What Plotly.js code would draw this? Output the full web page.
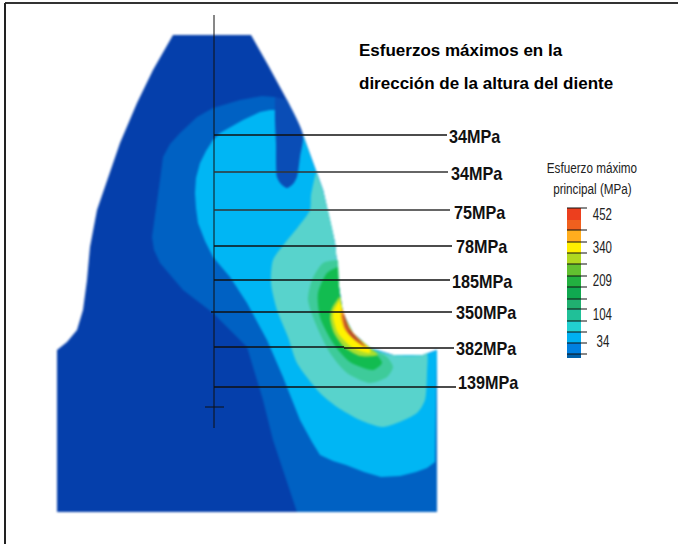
<!DOCTYPE html>
<html><head><meta charset="utf-8">
<script src="https://cdn.plot.ly/plotly-3.0.1.min.js"></script>
<style>
html,body{margin:0;padding:0;background:#fff;overflow:hidden}
#chart{width:678px;height:544px}
.scatterlayer{filter:blur(0.8px)}
.barlayer{filter:blur(0.4px)}
</style></head><body><div id="chart"></div>
<script>
// Shared curve of the loaded tooth flank (fillet end first)
const flankX=[437,423,393,370,353,343,339,335,323,303];
const flankY=[350,355,355,348,333,313,287,243,190,135];

// Contour regions, painted from lowest stress band to highest
const toothX=[173,251,268,287,...flankX.slice().reverse(),437,57,57,67,77,83,87,90,97,107,120,137,153];
const toothY=[35,35,65,100,...flankY.slice().reverse(),512,512,350,342,330,310,280,247,210,180,143,103,70];
const bandA_X=[275,262,240,213,197,180,170,163,160,155,152,154,160,183,213,247,263,273,297,437,...flankX.slice(0,-1),303];
const bandA_Y=[97,96,100,108,117,133,144,157,180,213,237,250,263,290,313,347,400,440,512,512,...flankY.slice(0,-1),135];
const bandB_X=[270,260,243,220,213,206,200,196,195,196,198,205,213,230,247,267,283,300,312,320,333,346,364,381,400,416,427,435,...flankX,290];
const bandB_Y=[110,112,120,133,140,151,163,178,193,208,223,241,257,277,303,340,377,420,442,455,461,465,472,477,476,472,468,462,...flankY,110];
const lobeX=[275,275,276,277,281,287,293,297,300,303,287];
const lobeY=[97,120,143,177,184,188,184,177,157,135,100];
const bandC_X=[316,311,310,298,285,273,271,277,288,297,320,337,360,383,417,425,427,427,423,393,370,353,343,339,335,323];
const bandC_Y=[172,195,210,227,243,260,283,310,337,363,393,407,420,427,413,400,373,353,355,355,348,333,313,287,243,190];
const bandD_X=[338,323,312,308,317,330,347,370,387,393,387,370,353,343,339];
const bandD_Y=[260,263,280,300,327,353,373,383,377,367,357,348,333,313,287];
const bandE_X=[338,327,318,320,333,350,373,382,377,370,353,343,339];
const bandE_Y=[267,273,293,317,343,362,370,363,355,348,333,313,287];
const bandF_X=[340,332,330,334,344,360,378,370,353,343];
const bandF_Y=[296,308,318,333,347,356,355,348,333,313];
const bandG_X=[340,334,333,338,353,370,370,353,343];
const bandG_Y=[300,310,317,333,348,353,349,333,313];
const bandH_X=[342,341,345,357,367,359,349,344];
const bandH_Y=[308,317,330,342,348,339,328,314];
const bandI_X=[343,345,350,358,366,358,349,344];
const bandI_Y=[315,326,335,342,347,339,328,314];
const regionColors=['#053FAB','#0061C3','#00B6F4','#0A4DB6','#58D3CC','#3ECB9A','#12BC50','#A9DE2E','#FFF200','#F0901E','#B8482C'];

// Leader lines and labels
const leaderY=[135,172,210,246,280,312,348,387];
const leaderEnd=[447,448,450,452,450,452,454,456];
const labelText=['34MPa','34MPa','75MPa','78MPa','185MPa','350MPa','382MPa','139MPa'];
const labelX=[448,450,453,455,451,455,455,457];
const labelY=[137,174,213,247,282,313,349,383];

// Colour scale
const scaleEdges=[208,220,230,242,253,264,276,287,299,309,321,332,343,354,358];
const scaleColors=['#EC3F1E','#F0601E','#FFAD1E','#FFEE00','#B0D820','#62C030','#22B040','#10A850','#20B070','#20C098','#22D0D0','#00B0F0','#0080E0','#0060A8'];
const scaleTicks=[208,230,242,253,264,276,287,299,309,321,332,343,354];
const scaleLabels=['452','340','209','104','34'];
const scaleLabelY=[214,247,280,314,341];
const scaleLabelX=[602,602,602,602,603];

const poly=(x,y,c,smooth)=>({type:'scatter',mode:'lines',x:x,y:y,fill:'toself',fillcolor:c,
  line:{width:0,color:c,shape:smooth?'spline':'linear',smoothing:0.7},hoverinfo:'skip',showlegend:false});
const regions=[[toothX,toothY,0],[bandA_X,bandA_Y,0],[bandB_X,bandB_Y,0],[lobeX,lobeY,1],[bandC_X,bandC_Y,1],[bandD_X,bandD_Y,1],[bandE_X,bandE_Y,1],[bandF_X,bandF_Y,1],[bandG_X,bandG_Y,1],[bandH_X,bandH_Y,1],[bandI_X,bandI_Y,1]];
const traces=regions.map((r,i)=>poly(r[0],r[1],regionColors[i],r[2]));

traces.push({type:'bar',x:scaleColors.map(()=>574),base:scaleEdges.slice(0,-1),
  y:scaleColors.map((c,i)=>scaleEdges[i+1]-scaleEdges[i]),width:14,
  marker:{color:scaleColors,line:{width:0}},hoverinfo:'skip',showlegend:false});

const line=(x0,y0,x1,y1,w,c)=>({type:'line',xref:'x',yref:'y',x0,y0,x1,y1,line:{width:w,color:c||'#111'}});
const shapes=[
  line(214,15,214,428,1,'#111'),
  line(205,407,224,407,1,'#111'),
  line(5,3,678,3,2,'#333'),
  line(5,3,5,544,2,'#222')
];
leaderY.forEach((y,i)=>{
  if(i===6){shapes.push(line(214,347,344,347,1.3));shapes.push(line(344,y,leaderEnd[i],y,1.3));}
  else shapes.push(line(i===5?211:214,y,leaderEnd[i],y,1.3,i===1||i===2?'#333':'#111'));
});
scaleTicks.forEach(y=>shapes.push(line(567,y,587,y,1,'#111')));

const ann=(text,x,y,size,fam,col,anchor)=>({text,x,y,xref:'x',yref:'y',xanchor:anchor||'left',yanchor:'middle',showarrow:false,borderpad:0,font:{size,family:fam,color:col||'#000'}});
const annotations=[];
const sans='"Liberation Sans",Arial,sans-serif';
annotations.push(ann('<b>Esfuerzos máximos en la</b>',358,50,17,sans));
annotations.push(ann('<b>dirección de la altura del diente</b>',358,83,17,sans));
labelText.forEach((t,i)=>annotations.push(ann('<b>'+t+'</b>',labelX[i],labelY[i],18,sans,'#111')));
annotations.push(ann('Esfuerzo máximo',592,167,15,sans,'#222','center'));
annotations.push(ann('principal (MPa)',592,188,15,sans,'#222','center'));
scaleLabels.forEach((t,i)=>annotations.push(ann(t,scaleLabelX[i],scaleLabelY[i],16,sans,'#222','center')));

const layout={width:678,height:544,margin:{l:0,r:0,t:0,b:0},paper_bgcolor:'#fff',plot_bgcolor:'#fff',
  xaxis:{range:[0,678],visible:false,fixedrange:true},
  yaxis:{range:[544,0],visible:false,fixedrange:true},
  showlegend:false,shapes,annotations,barmode:'overlay'};
Plotly.newPlot('chart',traces,layout,{displayModeBar:false,staticPlot:true}).then(()=>{
  // The reference's labels are condensed: narrow them horizontally, keeping their height
  document.querySelectorAll('.annotation').forEach(g=>{
    const i=+g.getAttribute('data-index');
    const t=g.querySelector('text');
    if(!t) return;
    t.style.transformBox='fill-box';
    if(i>=2&&i<10){t.style.transformOrigin='left center';t.style.transform='scaleX(0.9)';}
    if(i>=10&&i<12){t.style.transformOrigin='center';t.style.transform='scaleX(0.78)';}
    if(i>=12){t.style.transformOrigin='center';t.style.transform='scaleX(0.72)';}
  });
});
</script></body></html>
